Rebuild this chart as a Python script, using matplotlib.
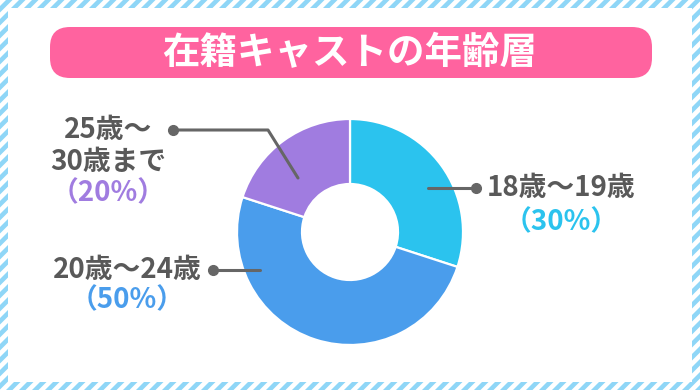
import matplotlib
matplotlib.use('Agg')
import matplotlib.pyplot as plt
from matplotlib.patches import Polygon, Rectangle, FancyBboxPatch
import numpy as np

plt.rcParams['font.family'] = ['Noto Sans CJK JP', 'DejaVu Sans']

# datos
title = '在籍キャストの年齢層'
groups = [['18歳～19歳'], ['20歳～24歳'], ['25歳～', '30歳まで']]
shares = [30, 50, 20]
colors = ['#2bc3ee', '#4a9dec', '#a07ce0']
text_gray = '#595959'
line_gray = '#666666'

W, H = 700, 390
fig = plt.figure(figsize=(W / 100, H / 100), dpi=100)

# fondo con rayas
bg = fig.add_axes([0, 0, 1, 1])
bg.set_xlim(0, W)
bg.set_ylim(H, 0)
bg.axis('off')
period, sw = 13, 6.5
for x0 in np.arange(-H - 20, W + 20, period):
    bg.add_patch(Polygon([(x0, H), (x0 + sw, H), (x0 + sw + H, 0), (x0 + H, 0)],
                         closed=True, facecolor='#8fd6f7', edgecolor='none'))
bg.add_patch(Rectangle((8, 8), W - 16, H - 16, facecolor='white', edgecolor='none'))

# barra del titulo
bg.add_patch(FancyBboxPatch((50, 27), 602, 51,
                            boxstyle='round,pad=0,rounding_size=20',
                            facecolor='#ff639f', edgecolor='none'))
bg.text(350, 53, title, color='white', fontsize=27, fontweight='bold',
        ha='center', va='center')

# donut
cx, cy, r = 350, 232, 113
side = 2.5 * r
pax = fig.add_axes([(cx - side / 2) / W, (H - cy - side / 2) / H, side / W, side / H])
pax.pie(shares, colors=colors, startangle=90, counterclock=False, radius=1,
        wedgeprops=dict(width=1 - 48 / 113, edgecolor='white', linewidth=1.6))
pax.set_xlim(-1.25, 1.25)
pax.set_ylim(-1.25, 1.25)
pax.set_aspect('equal')
pax.axis('off')

# etiquetas y lineas guia
ov = fig.add_axes([0, 0, 1, 1])
ov.set_xlim(0, W)
ov.set_ylim(H, 0)
ov.axis('off')
ov.patch.set_alpha(0)

leaders = [
    ([428, 476], [188, 188]),
    ([260, 213], [270, 270]),
    ([298, 268, 173], [178, 130, 130]),
]
label_pos = [
    (561, [188], 222),
    (127, [270], 300),
    (108, [130, 162], 193),
]

for i, (xs, ys) in enumerate(leaders):
    ov.plot(xs, ys, color=line_gray, lw=2.2, solid_capstyle='round',
            solid_joinstyle='round')
    ov.plot(xs[-1], ys[-1], 'o', color=line_gray, ms=7)
    tx, line_ys, py = label_pos[i]
    for txt, ty in zip(groups[i], line_ys):
        ov.text(tx, ty, txt, color=text_gray, fontsize=20, fontweight='bold',
                ha='center', va='center')
    ov.text(tx, py, f'（{shares[i]}%）', color=colors[i], fontsize=20,
            fontweight='bold', ha='center', va='center')

fig.savefig('out.png', dpi=100)
